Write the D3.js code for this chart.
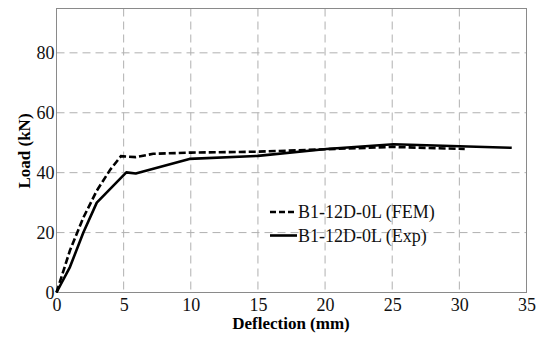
<!DOCTYPE html>
<html><head><meta charset="utf-8">
<script src="https://cdn.jsdelivr.net/npm/d3@7"></script>
<style>body{margin:0;background:#fff}svg{display:block}</style>
</head><body><svg id="c" width="539" height="340"></svg>
<script>
const xTicks = [0, 5, 10, 15, 20, 25, 30, 35];
const yTicks = [0, 20, 40, 60, 80];
const femX = [0, 1, 2, 3, 4, 4.8, 5.9, 7.2, 10, 15, 20, 25, 30.4];
const femY = [0, 14, 25, 34, 41, 45.5, 45.2, 46.3, 46.7, 47.0, 47.8, 48.6, 47.9];
const expX = [0, 1, 2, 3, 5.2, 5.9, 9.9, 15, 20.1, 25.1, 30, 33.9];
const expY = [0, 8.5, 20, 30, 40.1, 39.7, 44.6, 45.6, 47.9, 49.5, 48.8, 48.3];
const seriesNames = ["B1-12D-0L (FEM)", "B1-12D-0L (Exp)"];

const FONT = "'Liberation Serif', 'Times New Roman', Times, serif";
const svg = d3.select("#c");
const m = {l: 56.5, r: 526.5, t: 8.5, b: 292.5};
const x = d3.scaleLinear().domain([0, 35]).range([m.l, m.r]);
const y = d3.scaleLinear().domain([0, 94.8]).range([m.b, m.t]);

// grid
const g = svg.append("g");
g.selectAll("line.gx").data(xTicks.filter(d => d > 0 && d < 35)).join("line")
  .attr("x1", d => x(d)).attr("x2", d => x(d)).attr("y1", m.t).attr("y2", m.b)
  .attr("stroke", "#b0b0b0").attr("stroke-width", 1).attr("stroke-dasharray", "8,5");
g.selectAll("line.gy").data(yTicks.filter(d => d > 0)).join("line")
  .attr("y1", d => y(d)).attr("y2", d => y(d)).attr("x1", m.l).attr("x2", m.r)
  .attr("stroke", "#b0b0b0").attr("stroke-width", 1).attr("stroke-dasharray", "8,5");

// box
svg.append("rect").attr("x", m.l).attr("y", m.t).attr("width", m.r - m.l).attr("height", m.b - m.t)
  .attr("fill", "none").attr("stroke", "#8a8a8a").attr("stroke-width", 1);

// axes
const xa = svg.append("g").attr("transform", `translate(0,${m.b})`)
  .call(d3.axisBottom(x).tickValues(xTicks).tickSize(0).tickPadding(6));
xa.attr("font-family", null).attr("font-size", null);
xa.select(".domain").remove();
xa.selectAll("text").style("font-family", FONT).style("font-size", "18px").style("fill", "#111");
const ya = svg.append("g").attr("transform", `translate(${m.l},0)`)
  .call(d3.axisLeft(y).tickValues(yTicks).tickSize(0).tickPadding(2));
ya.attr("font-family", null).attr("font-size", null);
ya.select(".domain").remove();
ya.selectAll("text").style("font-family", FONT).style("font-size", "18px").style("fill", "#111").attr("dy", "0.32em");

// titles
svg.append("text").attr("x", 291).attr("y", 329).attr("text-anchor", "middle")
  .style("font-family", FONT).style("font-size", "17px").style("font-weight", "bold").text("Deflection (mm)");
svg.append("text").attr("transform", "translate(30,151) rotate(-90)").attr("text-anchor", "middle")
  .style("font-family", FONT).style("font-size", "17px").style("font-weight", "bold").text("Load (kN)");

// lines
const line = d3.line().x(d => x(d[0])).y(d => y(d[1]));
const fem = femX.map((v, i) => [v, femY[i]]);
const exp = expX.map((v, i) => [v, expY[i]]);
svg.append("path").datum(exp).attr("d", line).attr("fill", "none")
  .attr("stroke", "#000").attr("stroke-width", 2.6).attr("stroke-linejoin", "round");
svg.append("path").datum(fem).attr("d", line).attr("fill", "none")
  .attr("stroke", "#000").attr("stroke-width", 2.6).attr("stroke-dasharray", "7,3");

// legend
const lg = svg.append("g");
[0, 1].forEach(i => {
  const yy = 212 + i * 23.5;
  lg.append("line").attr("x1", 270).attr("x2", 297).attr("y1", yy).attr("y2", yy)
    .attr("stroke", "#000").attr("stroke-width", 2.6).attr("stroke-dasharray", i === 0 ? "6,3" : null);
  lg.append("text").attr("x", 298).attr("y", yy).attr("dy", "0.35em")
    .style("font-family", FONT).style("font-size", "18px").style("fill", "#111").text(seriesNames[i]);
});
</script></body></html>
